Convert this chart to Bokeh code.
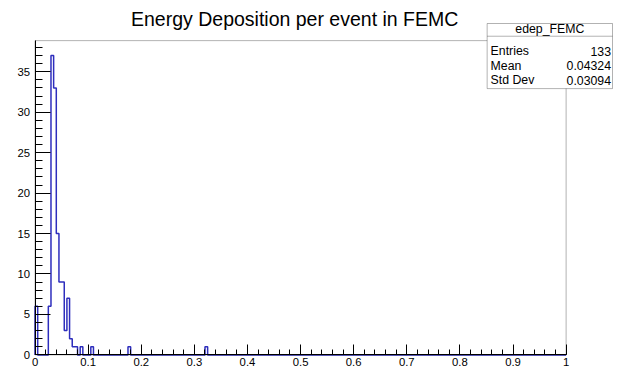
import numpy as np
from bokeh.plotting import figure
from bokeh.models import (Range1d, SingleIntervalTicker, CustomJSTickFormatter,
                          Label, PolyAnnotation, BoxAnnotation)
from bokeh.embed import file_html
from bokeh.resources import INLINE

# ---------------- data ----------------
title_text = "Energy Deposition per event in FEMC"
hist_name = "edep_FEMC"
n_bins = 200
x_min, x_max = 0.0, 1.0
filled_bin_low = [0.000, 0.025, 0.030, 0.035, 0.040, 0.045, 0.050, 0.055,
                  0.060, 0.065, 0.070, 0.075, 0.085, 0.105, 0.175, 0.320]
filled_counts = [6, 6, 37, 33, 15, 9, 9, 3, 7, 2, 1, 1, 1, 1, 1, 1]
stat_labels = ["Entries", "Mean", "Std Dev"]
stat_values = ["133", "0.04324", "0.03094"]

# ---------------- histogram ----------------
edges = np.linspace(x_min, x_max, n_bins + 1)
counts = np.zeros(n_bins)
for lo, c in zip(filled_bin_low, filled_counts):
    counts[int(round((lo - x_min) / (x_max - x_min) * n_bins))] += c
y_max = counts.max() * 1.05

step_x = np.concatenate([[x_min], edges])
step_y = np.concatenate([[0.0], counts, [0.0]])

# ---------------- geometry ----------------
W, H = 613, 372
SX, SY = W / 621.0, H / 380.0          # reference-pixel -> figure-pixel


def fx(rx):
    return rx * SX


def fy(ry):
    return ry * SY


L, R, T, B = fx(35), fx(573), fy(41), fy(362)   # axes box in figure pixels


def dx(px):
    return x_min + (px - L) / (R - L) * (x_max - x_min)


def dy(py):
    return (B - py) / (B - T) * y_max


FONT = "Liberation Sans"

p = figure(width=W, height=H, output_backend="svg", toolbar_location=None,
           title_location=None,
           x_range=Range1d(dx(0), dx(W)), y_range=Range1d(dy(H), dy(0)),
           min_border_left=0, min_border_right=0,
           min_border_top=0, min_border_bottom=0)
p.background_fill_color = "white"
p.border_fill_color = "white"
p.outline_line_color = None
p.xgrid.visible = False
p.ygrid.visible = False

# frame box
p.add_layout(BoxAnnotation(left=x_min, right=x_max, bottom=0, top=y_max,
                           fill_alpha=0, line_color="black", line_width=1))

p.step(step_x, step_y, mode="after", line_color="#2e2ebd", line_width=1.5)

# axes (ROOT style: ticks inside)
p.xaxis.ticker = SingleIntervalTicker(interval=0.1, num_minor_ticks=5)
p.xaxis.formatter = CustomJSTickFormatter(code="return String(Math.round(tick*1000)/1000);")
p.xaxis.fixed_location = 0
p.xaxis.bounds = (x_min, x_max)
p.yaxis.ticker = SingleIntervalTicker(interval=5, num_minor_ticks=5)
p.yaxis.fixed_location = x_min
p.yaxis.bounds = (0, y_max)
for ax in (p.xaxis, p.yaxis):
    ax.axis_line_color = "black"
    ax.major_tick_line_color = "black"
    ax.minor_tick_line_color = "black"
    ax.major_tick_out = 0
    ax.minor_tick_out = 0
    ax.major_label_text_font = FONT
    ax.major_label_text_font_size = "11.3px"
    ax.major_label_text_color = "black"
p.xaxis.major_tick_in = 10
p.xaxis.minor_tick_in = 5
p.xaxis.major_label_standoff = 3
p.yaxis.major_tick_in = 15
p.yaxis.minor_tick_in = 7
p.yaxis.major_label_standoff = 5

# title
p.add_layout(Label(x=dx(fx(298)), y=dy(fy(18.5)), text=title_text, text_font=FONT,
                   text_font_size="19.5px", text_align="center",
                   text_baseline="alphabetic", text_color="black"))

# stats box
bl, br, bt, bb, bs = fx(493), fx(620), fy(23.5), fy(90), fy(36.5)
p.add_layout(PolyAnnotation(xs=[dx(bl), dx(br), dx(br), dx(bl)],
                            ys=[dy(bt), dy(bt), dy(bb), dy(bb)],
                            xs_units="data", ys_units="data",
                            fill_color="white", fill_alpha=1.0,
                            line_color="black", line_width=1))
p.add_layout(PolyAnnotation(xs=[dx(bl), dx(br)], ys=[dy(bs), dy(bs)],
                            xs_units="data", ys_units="data",
                            fill_alpha=0, line_color="black", line_width=1))
p.add_layout(Label(x=dx((bl + br) / 2), y=dy(fy(29.5)), text=hist_name, text_font=FONT,
                   text_font_size="12.3px", text_align="center",
                   text_baseline="middle", text_color="black"))
for i, (lab, val) in enumerate(zip(stat_labels, stat_values)):
    yy = dy(fy(51.7 + 15 * i))
    p.add_layout(Label(x=dx(fx(496.5)), y=yy, text=lab, text_font=FONT,
                       text_font_size="12.3px", text_align="left",
                       text_baseline="middle", text_color="black"))
    p.add_layout(Label(x=dx(fx(618.5)), y=yy, text=val, text_font=FONT,
                       text_font_size="12.3px", text_align="right",
                       text_baseline="middle", text_color="black"))

open("out.html", "w").write(file_html(p, INLINE))
